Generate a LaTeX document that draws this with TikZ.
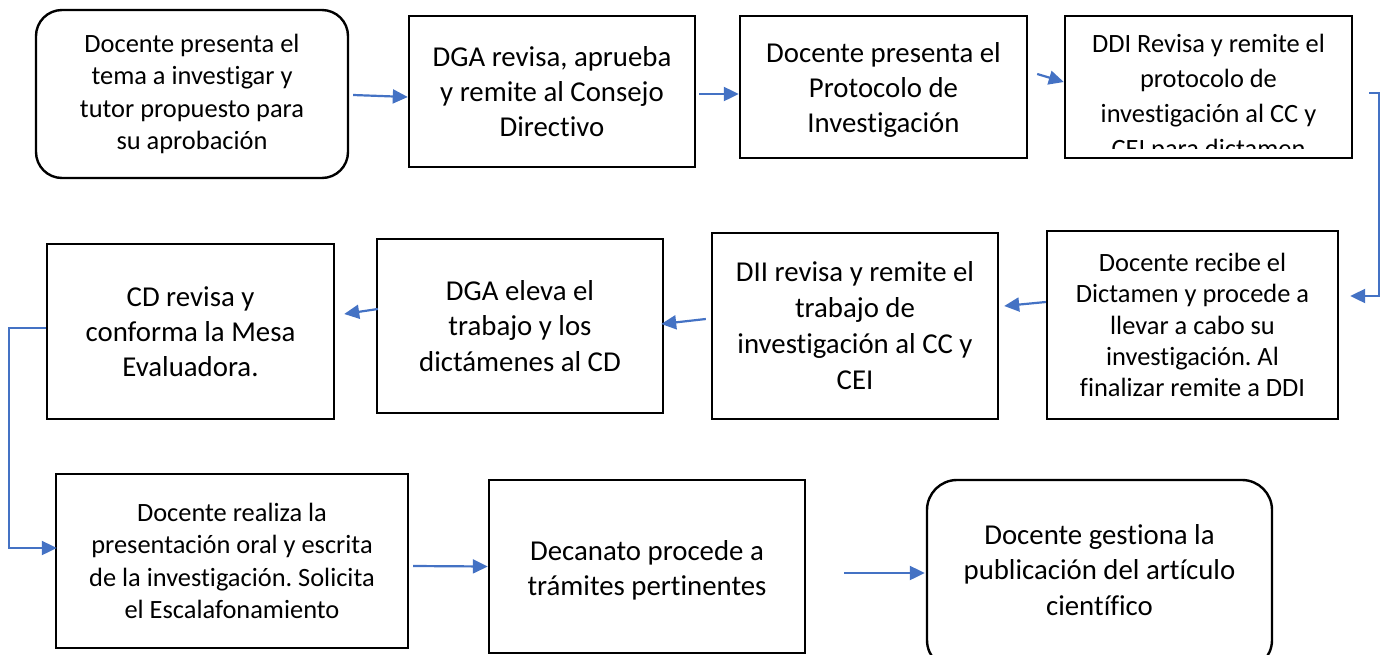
\documentclass[tikz,border=0pt]{standalone}
\usepackage{fontspec}
\setmainfont{Carlito}[Ligatures=NoCommon]
\usetikzlibrary{arrows.meta,calc}
\definecolor{azul}{RGB}{68,114,196}
\newcommand{\chico}{\fontsize{26.4}{32.2}\selectfont}
\newcommand{\grande}{\fontsize{28.8}{35.1}\selectfont}
\frenchspacing

\begin{document}
\begin{tikzpicture}[x=1pt,y=-1pt,
	caja/.style={draw, line width=2.4pt, align=center, inner sep=0pt},
	cajaR/.style={caja, rounded corners=26pt},
	texto/.style={align=center, inner sep=0pt},
	flecha/.style={draw=azul, line width=2.2pt, -{Triangle[length=15pt,width=14pt]}}]

	\useasboundingbox (0,0) rectangle (1384,654);

	%first row
	\node[cajaR, minimum width=312pt, minimum height=168pt, font=\chico] (tema) at (192,94) {Docente presenta el\\tema a investigar y\\tutor propuesto para\\su aprobación};
	\node[caja, minimum width=286pt, minimum height=151pt, font=\grande] (dga) at (552,91.5) {DGA revisa, aprueba\\y remite al Consejo\\Directivo};
	\node[caja, minimum width=287pt, minimum height=142pt] (protocolo) at (883.5,87) {};
	\node[texto, font=\grande] (protocolotexto) at ($(protocolo.center)+(0,3)$) {Docente presenta el\\Protocolo de\\Investigación};
	\node[caja, minimum width=287pt, minimum height=142pt] (ddi) at (1208.5,87) {};
	\begin{scope}
		\clip ($(ddi.south west)+(0,-11)$) rectangle (ddi.north east);
		\node[texto, font=\fontsize{26.4}{35.1}\selectfont] (dditexto) at ($(ddi.center)+(0,11)$) {DDI Revisa y remite el\\protocolo de\\investigación al CC y\\CEI para dictamen};
	\end{scope}

	%second row
	\node[caja, minimum width=291pt, minimum height=188pt, font=\fontsize{26.4}{31.3}\selectfont] (recibe) at (1192.5,325) {Docente recibe el\\Dictamen y procede a\\llevar a cabo su\\investigación. Al\\finalizar remite a DDI};
	\node[caja, minimum width=286pt, minimum height=186pt, font=\fontsize{28.8}{36}\selectfont] (dii) at (855,326) {DII revisa y remite el\\trabajo de\\investigación al CC y\\CEI};
	\node[caja, minimum width=286pt, minimum height=174pt, font=\grande] (eleva) at (520,326) {DGA eleva el\\trabajo y los\\dictámenes al CD};
	\node[caja, minimum width=287pt, minimum height=175pt, font=\grande] (cd) at (190.5,331.5) {CD revisa y\\conforma la Mesa\\Evaluadora.};

	%third row
	\node[caja, minimum width=352pt, minimum height=174pt, font=\chico] (realiza) at (232,561) {Docente realiza la\\presentación oral y escrita\\de la investigación. Solicita\\el Escalafonamiento};
	\node[caja, minimum width=316pt, minimum height=173pt] (decanato) at (647,566.5) {};
	\node[texto, font=\grande] (decanatotexto) at ($(decanato.center)+(0,4)$) {Decanato procede a\\trámites pertinentes};
	\node[cajaR, rounded corners=30pt, minimum width=345pt, minimum height=190pt] (publica) at (1099.5,575) {};
	\node[texto, font=\grande] (publicatexto) at ($(publica.center)+(0,-5)$) {Docente gestiona la\\publicación del artículo\\científico};

	%arrows
	\draw[flecha] ($(tema.east)+(4,1)$) -- ($(dga.west)+(0,5.5)$);
	\draw[flecha] ($(dga.east)+(3,2.5)$) -- ($(protocolo.west)+(0,7)$);
	\draw[flecha] ($(protocolo.east)+(9,-13)$) -- ($(ddi.west)+(0,-5)$);
	\draw[flecha] ($(ddi.east)+(16,6)$) -- ($(ddi.east)+(26,6)$) |- ($(recibe.east)+(11,-29)$);
	\draw[flecha] ($(recibe.west)+(0,-23)$) -- ($(dii.east)+(5,-20)$);
	\draw[flecha] ($(dii.west)+(-5,-7)$) -- ($(eleva.east)+(-3,-2)$);
	\draw[flecha] ($(eleva.west)+(2,-17)$) -- ($(cd.east)+(9,-17.5)$);
	\draw[flecha] ($(cd.west)+(0,-3.5)$) -- ($(cd.west)+(-37,-3.5)$) |- ($(realiza.west)+(2,-13)$);
	\draw[flecha] ($(realiza.east)+(4,5)$) -- (decanato.west);
	\draw[flecha] ($(decanato.east)+(38,6.5)$) -- ($(publica.west)+(-1,-2)$);

\end{tikzpicture}
\end{document}
